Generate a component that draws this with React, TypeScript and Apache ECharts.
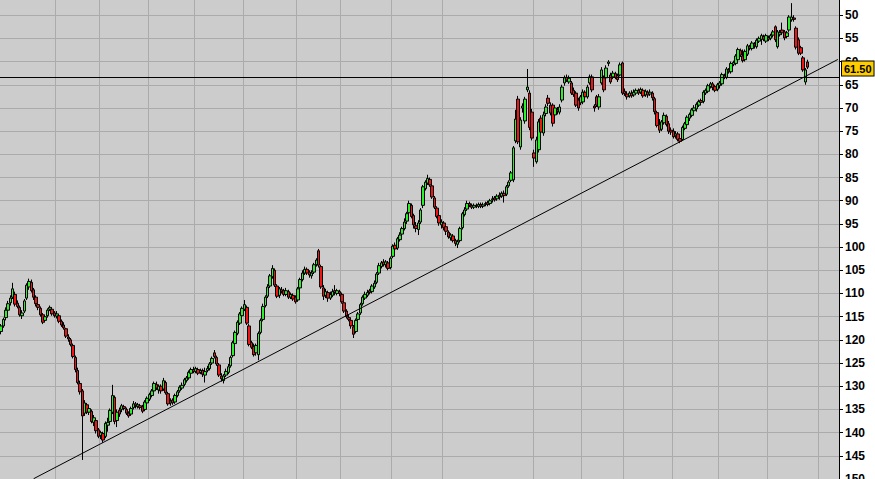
import React, { useEffect, useRef } from "react";
import * as echarts from "echarts";

// ---------- data ----------
const CATEGORY_COUNT = 362;
const days: string[] = Array.from({ length: CATEGORY_COUNT }, (_, i) => `D${i + 1}`);
const monthStarts: number[] = [3, 24, 43, 64, 84, 105, 128, 147, 169, 191, 230, 251, 269, 290, 310, 331, 353];
const yearStart = 209;
const yAxisMin = 45;
const yAxisMax = 150;
const yStep = 5;
const trendStart: [number, number] = [14, 149.94];
const trendEnd: [number, number] = [361, 59.55];
const levelLine = 63.4;
const lastPrice = 61.5;
const lastPriceLabel = "61.50";

// [open, close, low, high]
const ohlc: number[][] = [
  [118.2, 117.0, 116.6, 118.8], [117.0, 115.6, 115.2, 117.4], [115.2, 113.6, 113.0, 115.8], [113.6, 112.2, 111.6, 114.0],
  [112.0, 111.0, 110.4, 112.6], [110.8, 109.0, 107.7, 111.2], [110.2, 112.3, 109.6, 112.8], [112.1, 112.8, 111.5, 113.2],
  [113.0, 114.6, 112.6, 115.0], [114.8, 114.2, 113.6, 115.5], [113.8, 111.6, 111.2, 114.2], [111.0, 108.2, 107.8, 111.4],
  [108.6, 107.4, 106.8, 109.2], [107.6, 109.4, 107.0, 109.8], [109.2, 110.8, 108.8, 111.4], [110.8, 112.2, 110.4, 112.8],
  [112.4, 113.0, 112.0, 113.6], [113.2, 114.6, 112.8, 115.0], [114.6, 116.2, 114.2, 116.6], [115.8, 115.0, 114.6, 116.2],
  [114.8, 113.6, 113.2, 115.2], [113.4, 113.0, 112.6, 113.8], [113.4, 114.4, 113.0, 114.8], [114.2, 114.8, 113.8, 115.2],
  [114.9, 114.4, 113.8, 115.4], [114.8, 116.0, 114.4, 116.4], [116.0, 116.8, 115.6, 117.2], [116.8, 117.4, 116.2, 117.8],
  [117.6, 119.2, 117.4, 119.6], [119.4, 119.8, 118.8, 120.4], [120.0, 121.0, 119.6, 121.4], [121.2, 123.6, 120.8, 124.0],
  [123.8, 126.4, 123.4, 127.0], [126.6, 129.2, 126.0, 129.6], [129.4, 131.2, 128.8, 131.8], [131.0, 136.4, 130.6, 145.9],
  [135.8, 133.6, 133.0, 136.4], [134.0, 135.6, 133.6, 136.0], [135.6, 134.8, 134.4, 136.2], [135.4, 137.6, 135.0, 138.0],
  [137.8, 136.8, 136.2, 138.6], [137.4, 139.6, 137.0, 140.2], [139.4, 140.8, 139.0, 141.2], [140.6, 140.0, 139.6, 141.4],
  [140.2, 141.6, 139.8, 142.2], [140.8, 138.0, 137.6, 141.2], [138.4, 137.8, 136.8, 139.8], [137.6, 135.2, 134.8, 138.2],
  [135.6, 132.0, 129.7, 136.0], [132.4, 137.6, 132.0, 138.2], [137.4, 135.6, 135.0, 138.8], [135.2, 136.0, 134.6, 136.6],
  [135.0, 134.2, 133.8, 135.6], [134.4, 134.8, 134.0, 135.2], [135.0, 135.8, 134.6, 136.2], [135.8, 136.4, 135.4, 136.8],
  [136.0, 134.8, 134.4, 136.4], [134.6, 133.8, 133.2, 135.0], [133.8, 134.2, 133.4, 134.8], [134.4, 134.0, 133.6, 134.8],
  [134.2, 134.6, 133.8, 135.0], [134.4, 135.4, 134.0, 135.8], [135.0, 133.4, 133.0, 135.4], [133.6, 132.6, 132.2, 134.0],
  [132.8, 131.8, 131.4, 133.2], [132.0, 131.0, 130.6, 132.4], [131.0, 129.4, 129.0, 131.4], [129.6, 130.4, 129.0, 130.8],
  [130.8, 130.0, 129.6, 131.6], [130.0, 131.0, 129.6, 131.6], [130.6, 128.8, 128.2, 131.0], [129.2, 131.4, 128.8, 131.8],
  [131.6, 133.8, 131.2, 134.2], [133.6, 133.2, 132.6, 134.2], [133.0, 133.6, 132.6, 134.0], [133.4, 132.0, 131.6, 133.8],
  [132.0, 131.2, 130.8, 132.4], [131.0, 130.2, 129.8, 131.4], [130.4, 129.8, 129.2, 130.8], [129.6, 128.6, 128.2, 130.0],
  [128.8, 128.2, 127.8, 129.2], [128.2, 127.0, 126.6, 128.6], [127.2, 126.4, 126.0, 127.6], [126.4, 126.8, 125.8, 127.2],
  [126.8, 126.2, 125.8, 127.2], [126.4, 127.2, 126.0, 127.6], [127.0, 126.6, 126.2, 127.4], [126.6, 127.4, 126.2, 128.0],
  [127.6, 126.8, 126.0, 129.2], [126.6, 126.2, 125.6, 127.0], [126.2, 125.2, 124.8, 126.6], [125.0, 124.0, 123.6, 125.4],
  [122.8, 123.6, 122.2, 124.0], [123.8, 125.2, 123.4, 125.6], [125.4, 127.6, 125.0, 128.0], [127.8, 128.4, 127.2, 129.0],
  [128.8, 127.8, 127.4, 129.4], [127.6, 126.8, 126.2, 128.0], [127.0, 125.8, 125.2, 127.4], [125.6, 123.8, 123.4, 126.0],
  [123.4, 120.6, 120.2, 123.8], [120.8, 118.4, 118.0, 121.2], [118.6, 116.2, 115.8, 119.0], [116.4, 114.4, 114.0, 116.8],
  [114.8, 113.2, 112.8, 115.4], [113.4, 112.4, 111.4, 113.8], [113.0, 116.4, 112.6, 116.8], [117.0, 121.0, 116.6, 121.4],
  [120.6, 121.6, 120.2, 122.0], [121.4, 123.2, 120.8, 123.6], [122.8, 121.2, 120.8, 123.4], [123.2, 118.6, 118.2, 124.4],
  [118.4, 115.8, 115.4, 118.8], [115.6, 112.8, 112.2, 116.0], [112.6, 110.8, 110.4, 113.0], [110.6, 108.6, 108.0, 111.0],
  [108.4, 106.2, 105.8, 108.8], [106.4, 104.6, 103.9, 106.8], [105.0, 108.2, 104.6, 108.6], [108.4, 110.6, 108.0, 111.0],
  [110.4, 109.0, 108.6, 111.0], [109.2, 109.6, 108.6, 110.0], [109.4, 110.2, 109.0, 110.6], [110.2, 109.4, 108.8, 110.6],
  [109.6, 110.8, 109.2, 111.2], [110.8, 110.2, 109.8, 111.2], [110.4, 111.2, 110.0, 111.6], [110.8, 111.8, 110.4, 112.2],
  [111.4, 109.0, 108.6, 111.8], [108.8, 107.0, 106.6, 109.2], [107.0, 105.6, 105.0, 107.4], [105.6, 104.8, 104.2, 106.0],
  [104.8, 105.6, 104.4, 106.0], [105.4, 106.0, 105.0, 106.6], [106.2, 105.6, 105.0, 106.8], [105.4, 103.8, 103.4, 105.8],
  [103.8, 102.8, 102.4, 104.2], [100.8, 103.9, 100.4, 104.4], [104.2, 108.6, 103.8, 109.0], [108.8, 110.6, 108.2, 111.4],
  [110.4, 109.6, 109.0, 111.0], [109.8, 111.0, 109.4, 111.8], [111.0, 110.2, 109.6, 111.4], [110.4, 109.6, 109.0, 110.8],
  [109.4, 109.8, 108.2, 110.4], [110.0, 109.4, 109.0, 110.4], [109.6, 110.0, 109.2, 110.6], [110.2, 111.8, 109.8, 112.2],
  [112.0, 113.8, 111.6, 114.2], [113.8, 115.0, 113.4, 115.4], [115.2, 115.6, 114.6, 116.0], [115.8, 117.0, 115.4, 117.6],
  [117.2, 118.8, 116.8, 119.6], [118.2, 115.8, 115.4, 118.6], [115.6, 114.4, 114.0, 116.0], [114.2, 112.4, 112.0, 114.6],
  [112.2, 110.8, 110.4, 112.6], [111.0, 110.2, 109.6, 111.4], [110.4, 109.8, 109.2, 110.8], [109.4, 109.8, 109.0, 110.2],
  [109.6, 108.4, 108.0, 110.0], [108.6, 107.8, 107.2, 109.0], [107.6, 105.8, 105.4, 108.0], [105.6, 104.0, 103.4, 106.0],
  [104.2, 103.4, 103.0, 104.6], [103.2, 103.8, 102.6, 104.2], [103.8, 103.2, 102.8, 104.4], [103.4, 104.6, 103.0, 105.0],
  [104.4, 102.4, 102.0, 104.8], [102.0, 99.8, 99.4, 102.4], [99.6, 100.4, 99.0, 100.8], [100.2, 98.2, 97.8, 100.6],
  [98.4, 97.4, 96.8, 98.8], [97.2, 96.0, 95.6, 97.6], [96.0, 94.6, 93.8, 96.4], [94.4, 92.8, 92.4, 95.0],
  [92.6, 90.6, 90.0, 93.0], [91.0, 93.4, 90.6, 93.8], [93.2, 95.2, 92.8, 96.0], [95.4, 96.0, 94.6, 96.8],
  [96.2, 94.8, 94.2, 97.4], [94.6, 92.0, 91.6, 95.0], [91.0, 87.0, 86.6, 91.6], [87.4, 86.0, 85.6, 87.8],
  [86.2, 85.2, 84.4, 86.6], [85.4, 86.6, 85.0, 87.0], [86.8, 89.2, 86.4, 89.6], [89.4, 91.4, 89.0, 91.8],
  [91.6, 93.4, 91.2, 93.8], [93.2, 94.8, 92.8, 95.4], [95.2, 94.6, 94.0, 96.0], [94.8, 95.8, 94.4, 96.4],
  [95.6, 96.6, 95.2, 97.4], [96.8, 97.8, 96.4, 98.2], [98.0, 97.4, 97.0, 98.6], [97.6, 98.6, 97.2, 99.0],
  [98.6, 99.2, 98.2, 99.8], [99.4, 98.8, 98.4, 100.2], [98.6, 96.0, 95.6, 99.0], [95.8, 92.8, 92.4, 96.2],
  [93.0, 92.0, 91.4, 93.4], [91.8, 90.6, 90.0, 92.2], [90.6, 91.0, 90.2, 91.4], [91.0, 91.4, 90.6, 91.8],
  [91.4, 91.0, 90.6, 91.8], [91.0, 91.2, 90.6, 91.6], [91.2, 90.8, 90.4, 91.6], [90.8, 91.2, 90.4, 91.6],
  [91.2, 90.9, 90.4, 91.6], [90.8, 90.6, 90.2, 91.2], [90.4, 90.8, 90.0, 91.2], [90.6, 90.0, 89.6, 91.0],
  [89.8, 89.6, 89.0, 90.4], [89.4, 89.8, 89.0, 90.2], [89.6, 89.0, 88.6, 90.0], [88.8, 89.2, 88.2, 89.8],
  [89.0, 88.4, 88.0, 89.4], [88.4, 88.9, 87.8, 90.4], [88.6, 87.0, 86.6, 89.0], [86.8, 86.0, 85.6, 87.2],
  [85.6, 84.0, 83.6, 86.0], [85.5, 78.6, 78.2, 86.0], [77.1, 72.4, 70.4, 77.6], [68.1, 77.3, 67.4, 77.8],
  [78.4, 72.6, 72.0, 79.0], [70.0, 69.6, 69.0, 71.0], [72.8, 68.1, 67.6, 73.4], [66.1, 65.5, 61.6, 66.6],
  [66.8, 74.2, 66.2, 74.8], [70.9, 76.5, 70.2, 77.0], [79.7, 80.8, 79.0, 82.7], [81.6, 76.9, 76.2, 82.0],
  [79.0, 73.0, 72.4, 79.6], [72.2, 75.2, 71.6, 75.8], [75.4, 71.5, 70.8, 76.0], [71.2, 69.8, 69.2, 71.8],
  [67.9, 69.0, 67.2, 69.6], [69.4, 71.1, 68.8, 71.6], [69.4, 73.3, 69.0, 74.0], [71.5, 70.0, 69.4, 72.0],
  [70.4, 70.8, 69.8, 71.4], [70.9, 69.8, 69.2, 71.4], [68.3, 65.5, 65.0, 68.8], [64.6, 63.5, 63.0, 65.2],
  [63.4, 64.0, 62.8, 64.4], [64.4, 63.6, 63.0, 64.8], [64.6, 66.8, 64.2, 67.2], [66.2, 67.1, 65.6, 67.6],
  [66.8, 69.4, 66.4, 69.8], [68.3, 70.0, 67.8, 70.6], [68.9, 67.6, 67.2, 69.4], [68.7, 66.6, 66.0, 69.2],
  [66.6, 67.6, 66.2, 68.0], [67.6, 65.5, 65.0, 68.0], [64.6, 63.3, 62.8, 65.0], [63.3, 66.1, 62.8, 66.6],
  [69.6, 70.0, 69.2, 70.8], [67.6, 69.4, 67.2, 69.8], [69.8, 67.6, 67.0, 70.4], [64.6, 61.8, 61.2, 65.0],
  [63.5, 66.1, 63.0, 66.6], [63.5, 61.4, 60.8, 64.0], [60.4, 60.1, 59.7, 61.0], [62.9, 64.4, 62.4, 64.8],
  [63.3, 62.5, 62.0, 63.8], [62.6, 63.4, 62.2, 63.8], [63.0, 63.9, 62.6, 64.4], [62.9, 60.7, 60.2, 63.2],
  [60.3, 66.8, 60.0, 67.2], [66.4, 66.9, 65.8, 67.4], [67.0, 67.6, 66.4, 68.2], [67.4, 66.8, 66.4, 67.8],
  [66.8, 67.4, 66.2, 67.8], [67.2, 66.6, 66.0, 67.6], [66.8, 66.2, 65.8, 67.2], [66.2, 66.8, 65.8, 67.2],
  [66.6, 66.0, 65.6, 67.0], [66.2, 67.4, 65.8, 67.8], [67.2, 66.4, 66.0, 67.6], [66.6, 67.2, 66.2, 67.8],
  [67.0, 66.6, 66.0, 67.4], [66.8, 67.8, 66.4, 68.4], [68.0, 70.8, 67.6, 71.4], [71.0, 73.8, 70.6, 74.2],
  [73.6, 74.8, 72.4, 75.4], [74.6, 73.0, 72.6, 75.0], [73.2, 71.6, 71.0, 73.6], [71.8, 73.6, 71.4, 74.0],
  [73.4, 75.0, 72.8, 75.6], [74.8, 75.2, 74.2, 75.8], [75.0, 76.2, 74.4, 76.6], [76.0, 75.6, 75.0, 76.6],
  [75.6, 76.8, 75.2, 77.2], [76.6, 77.2, 75.8, 77.6], [76.8, 74.2, 73.8, 77.0], [74.4, 73.4, 73.0, 74.8],
  [73.6, 72.0, 71.6, 74.0], [72.2, 71.4, 71.0, 72.8], [71.6, 70.4, 70.0, 72.0], [70.6, 70.0, 69.4, 71.0],
  [70.2, 69.2, 68.8, 70.8], [69.4, 68.6, 68.2, 69.8], [68.4, 68.8, 68.0, 69.4], [68.6, 66.6, 66.2, 69.0],
  [66.8, 66.2, 65.8, 67.2], [66.4, 65.2, 64.8, 66.8], [65.4, 64.8, 64.4, 65.8], [64.8, 65.6, 64.4, 66.2],
  [65.4, 66.2, 65.0, 66.6], [66.0, 65.0, 64.6, 66.4], [65.2, 64.6, 64.2, 65.8], [64.8, 62.8, 62.4, 65.2],
  [63.0, 63.4, 62.6, 63.8], [63.4, 61.6, 61.2, 63.8], [61.8, 62.2, 61.4, 62.6], [62.2, 60.4, 60.0, 62.6],
  [60.6, 60.2, 59.8, 61.0], [60.4, 58.8, 58.4, 60.8], [59.6, 57.4, 57.0, 60.0], [57.6, 58.6, 57.2, 59.0],
  [58.8, 59.8, 57.4, 60.2], [59.6, 57.8, 57.4, 60.0], [58.4, 56.6, 56.2, 58.8], [56.8, 57.2, 56.4, 57.6],
  [57.2, 56.0, 55.6, 57.6], [56.2, 56.6, 55.8, 57.2], [56.8, 55.4, 55.0, 57.2], [55.6, 55.0, 54.6, 56.0],
  [55.2, 54.4, 54.0, 56.4], [54.6, 55.2, 54.2, 55.6], [55.6, 54.4, 54.0, 56.0], [54.8, 55.2, 54.4, 55.6],
  [55.0, 54.4, 54.0, 55.4], [54.3, 53.6, 53.2, 54.8], [52.5, 55.3, 52.2, 55.8], [56.8, 53.6, 53.2, 57.2],
  [54.2, 53.8, 53.2, 54.6], [53.2, 53.8, 51.6, 54.2], [53.6, 54.9, 53.2, 55.4], [54.6, 53.8, 53.4, 55.0],
  [53.2, 50.4, 50.0, 53.6], [51.0, 50.4, 47.4, 51.4], [50.6, 50.9, 50.0, 51.4], [52.8, 56.9, 52.4, 57.4],
  [55.3, 58.2, 54.8, 58.6], [57.0, 58.2, 56.6, 58.6], [59.2, 61.8, 58.8, 62.2], [64.4, 61.8, 61.4, 65.0],
  [60.1, 61.2, 59.6, 61.6],
];

// ---------- styles ----------
const RED = "#f01414";
const GREEN = "#2cf02c";
const BG = "#cccccc";
const GRID = "#ababab";
const FONT = "Liberation Sans";

export default function App() {
  const ref = useRef<HTMLDivElement>(null);

  useEffect(() => {
    if (!ref.current) return;
    const chart = echarts.init(ref.current, undefined, { renderer: "svg" });
    const hiddenAxisParts = {
      axisLine: { show: false },
      axisTick: { show: false },
      axisLabel: { show: false },
    };
    chart.setOption({
      animation: false,
      backgroundColor: "#ffffff",
      grid: {
        left: 0,
        right: 36,
        top: -8,
        bottom: 0,
        show: true,
        backgroundColor: BG,
        borderWidth: 0,
        containLabel: false,
        outerBoundsMode: "none",
      },
      xAxis: [
        {
          type: "category",
          data: days,
          boundaryGap: true,
          ...hiddenAxisParts,
          splitLine: {
            show: true,
            showMinLine: false,
            showMaxLine: false,
            interval: (i: number) => monthStarts.includes(i),
            lineStyle: { color: GRID, width: 1 },
          },
        },
        {
          type: "category",
          data: days,
          position: "top",
          boundaryGap: true,
          ...hiddenAxisParts,
          splitLine: {
            show: true,
            showMinLine: false,
            showMaxLine: false,
            interval: (i: number) => i === yearStart,
            lineStyle: { color: "#6a6a6a", width: 1 },
          },
        },
      ],
      yAxis: {
        type: "value",
        inverse: true,
        min: yAxisMin,
        max: yAxisMax,
        interval: yStep,
        position: "right",
        axisLine: { show: true, lineStyle: { color: "#000", width: 1 } },
        axisTick: { show: true, length: 4, lineStyle: { color: "#000" } },
        axisLabel: {
          margin: 6,
          color: "#000",
          fontWeight: "bold",
          fontSize: 12,
          fontFamily: FONT,
          showMinLabel: false,
        },
        splitLine: { show: true, lineStyle: { color: GRID, width: 1 } },
      },
      series: [
        {
          type: "candlestick",
          data: ohlc,
          barWidth: 3,
          itemStyle: {
            color: RED,
            color0: GREEN,
            borderColor: "#000",
            borderColor0: "#000",
            borderWidth: 1,
          },
          markLine: {
            silent: true,
            symbol: ["none", "none"],
            label: { show: false },
            lineStyle: { color: "#000", width: 1, type: "solid" },
            data: [
              [
                { coord: [days[trendStart[0]], trendStart[1]] },
                { coord: [days[trendEnd[0]], trendEnd[1]] },
              ],
              { yAxis: levelLine },
              {
                yAxis: lastPrice,
                lineStyle: { color: "rgba(0,0,0,0)", width: 0 },
                label: {
                  show: true,
                  position: "end",
                  distance: 3,
                  formatter: lastPriceLabel,
                  backgroundColor: "#ffcc00",
                  borderColor: "#000",
                  borderWidth: 1,
                  padding: [2, 2, 1, 2],
                  color: "#000",
                  fontWeight: "bold",
                  fontSize: 11,
                  fontFamily: FONT,
                },
              },
            ],
          },
        },
      ],
    });
    return () => chart.dispose();
  }, []);

  return (
    <div
      ref={ref}
      style={{ position: "fixed", left: 0, top: 0, width: 875, height: 479 }}
    />
  );
}
